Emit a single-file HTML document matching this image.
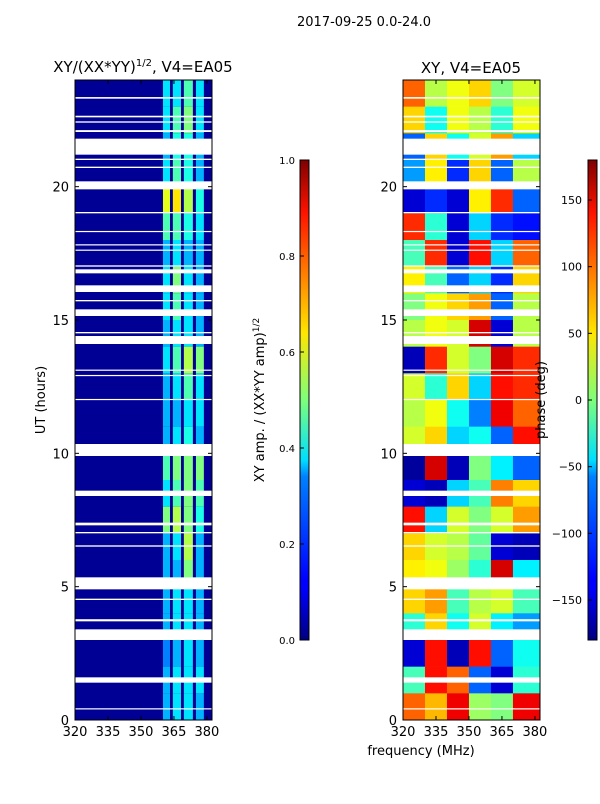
<!DOCTYPE html>
<html><head><meta charset="utf-8"><style>
body{margin:0;background:#fff;font-family:"DejaVu Sans","Liberation Sans",sans-serif}
svg text{font-family:"DejaVu Sans","Liberation Sans",sans-serif;fill:#000}
</style></head><body>
<svg id="fig" width="600" height="800" viewBox="0 0 600 800" xmlns="http://www.w3.org/2000/svg">
<defs>
<linearGradient id="jet" x1="0" y1="1" x2="0" y2="0">
<stop offset="0" stop-color="#00007f"/><stop offset="0.11" stop-color="#0000ff"/><stop offset="0.125" stop-color="#0000ff"/><stop offset="0.34" stop-color="#0080ff"/><stop offset="0.375" stop-color="#00dfff"/><stop offset="0.5" stop-color="#7dff7a"/><stop offset="0.64" stop-color="#ffe600"/><stop offset="0.89" stop-color="#ff1300"/><stop offset="1" stop-color="#7f0000"/>
</linearGradient>
</defs>
<text x="364" y="26" font-size="13" text-anchor="middle">2017-09-25 0.0-24.0</text>
<text x="143" y="72" font-size="15" text-anchor="middle">XY/(XX*YY)<tspan font-size="10" dy="-6">1/2</tspan><tspan dy="6">, V4=EA05</tspan></text>
<text x="471" y="73" font-size="15" text-anchor="middle">XY, V4=EA05</text>
<g id="left"></g>
<g id="right"></g>
<g id="axes"></g>
<text transform="translate(45,400) rotate(-90)" font-size="13" text-anchor="middle">UT (hours)</text>
<text x="421" y="755" font-size="13" text-anchor="middle">frequency (MHz)</text>
<rect x="300" y="160" width="9" height="480" fill="url(#jet)" stroke="#000" stroke-width="1"/>
<rect x="588" y="160" width="9" height="480" fill="url(#jet)" stroke="#000" stroke-width="1"/>
<text transform="translate(264,400) rotate(-90)" font-size="13" text-anchor="middle">XY amp. / (XX*YY amp)<tspan font-size="9" dy="-5">1/2</tspan></text>
<text transform="translate(545,400) rotate(-90)" font-size="13" text-anchor="middle">phase (deg)</text>
<g id="cb"></g>
</svg>
<script>
const hourRows=[23,22,21,20,19,18,17,16,15,14,13,12,11,10,9,8,7,6,5,4,3,2,1,0];
const stripeEdges=[[360,363.2],[364.5,368.2],[369.5,373.6],[375,378.6]];
const ampBackground=0.02;
const ampStripes=[
[.35,.35,.45,.35],[.35,.45,.5,.35],[.3,.4,.4,.3],[.35,.45,.4,.3],[.6,.65,.55,.4],[.45,.45,.4,.35],
[.3,.35,.3,.3],[.35,.5,.35,.3],[.35,.45,.35,.3],[.3,.35,.35,.3],[.35,.45,.55,.5],[.3,.35,.45,.35],
[.3,.3,.35,.35],[.3,.35,.4,.3],[.45,.5,.5,.5],[.35,.45,.5,.45],[.5,.55,.5,.4],[.3,.35,.55,.3],
[.3,.3,.5,.3],[.3,.35,.35,.3],[.3,.35,.35,.3],[.25,.3,.35,.3],[.3,.35,.35,.35],[.3,.35,.35,.3]];
const phaseEdges=[320,330,340,350,360,370,382.3];
const phaseRows=[
[100,20,40,60,0,30],[60,-40,40,20,-30,40],[-100,60,-40,30,80,-60],[-80,50,-120,60,-100,20],
[-150,-120,-150,50,120,-100],[120,-30,-150,-60,-120,-130],[-20,120,-150,130,-60,100],[50,-20,-100,-60,-120,60],
[0,40,60,80,-100,20],[20,40,30,150,-150,20],[-160,120,30,0,150,120],[30,-30,60,-60,130,120],
[20,40,-40,-90,140,100],[30,60,-60,-40,-100,130],[-170,150,-160,0,-50,-100],[-150,-160,-60,-20,90,60],
[130,-60,30,0,30,80],[60,30,20,-10,-150,-160],[50,40,10,-30,150,-50],[60,80,-20,20,30,-20],
[-30,60,-40,30,-50,-80],[-150,130,-160,130,-100,-40],[-20,130,100,-100,-150,-30],[100,70,140,10,0,140]];
const gaps=[[23.3,23.36],[22.6,22.66],[22.4,22.45],[22.05,22.12],[21.2,21.8],[21.0,21.05],[20.7,20.75],
[19.9,20.2],[19.0,19.05],[18.3,18.34],[17.8,17.84],[17.6,17.64],[17.0,17.05],[16.75,16.9],[16.05,16.3],
[15.7,15.75],[15.15,15.4],[14.5,14.55],[14.1,14.4],[13.1,13.14],[12.9,12.94],[12.0,12.04],[10.3,10.35],
[9.9,10.35],[8.4,8.6],[7.3,7.4],[7.0,7.05],[6.5,6.55],[4.9,5.35],[4.5,4.55],[3.7,3.78],[3.0,3.4],[1.4,1.6],[0.4,0.44]];
const xTicks=[320,335,350,365,380];
const yTicks=[0,5,10,15,20];
const ampTicks=[0,0.2,0.4,0.6,0.8,1.0];
const phaseTicks=[-150,-100,-50,0,50,100,150];

const NS='http://www.w3.org/2000/svg';
const fmin=320,fmax=382.3,tmax=24;
const panels=[{x0:75,x1:212},{x0:403,x1:540}];
const Y0=720,Y1=80;
function yS(h){return Y0-(h/tmax)*(Y0-Y1);}
function xS(p,f){return p.x0+(f-fmin)/(fmax-fmin)*(p.x1-p.x0);}
function cl(v){return Math.max(0,Math.min(1,v));}
function jet(t){const r=cl(1.5-Math.abs(4*t-3)),g=cl(1.5-Math.abs(4*t-2)),b=cl(1.5-Math.abs(4*t-1));
return 'rgb('+Math.round(r*255)+','+Math.round(g*255)+','+Math.round(b*255)+')';}
function mk(parent,tag,a){const e=document.createElementNS(NS,tag);for(const k in a)e.setAttribute(k,a[k]);parent.appendChild(e);return e;}
const L=document.getElementById('left'),R=document.getElementById('right'),A=document.getElementById('axes'),CB=document.getElementById('cb');
let bg=mk(L,'rect',{x:panels[0].x0,y:Y1,width:panels[0].x1-panels[0].x0,height:Y0-Y1,fill:jet(ampBackground)});


hourRows.forEach((h,i)=>{
  stripeEdges.forEach((s,j)=>{
    const x=xS(panels[0],s[0]),w=xS(panels[0],s[1])-x;
    const c=mk(L,'rect',{x:x,y:yS(h+1),width:w,height:yS(h)-yS(h+1),fill:jet(ampStripes[i][j])});
    
    
  });
  for(let j=0;j<phaseEdges.length-1;j++){
    const x=xS(panels[1],phaseEdges[j]),w=xS(panels[1],phaseEdges[j+1])-x;
    const c=mk(R,'rect',{x:x,y:yS(h+1),width:w+0.3,height:yS(h)-yS(h+1)+0.3,fill:jet((phaseRows[i][j]+180)/360)});
    
    
  }
});
panels.forEach(p=>{
  gaps.forEach(g=>{
    const r=mk(A,'rect',{x:p.x0,y:yS(g[1]),width:p.x1-p.x0,height:Math.max(1.2,yS(g[0])-yS(g[1])),fill:'#fff'});
    
    
  });
  const f=mk(A,'rect',{x:p.x0,y:Y1,width:p.x1-p.x0,height:Y0-Y1,fill:'none',stroke:'#000','stroke-width':1});
  
  
  xTicks.forEach(v=>{const x=xS(p,v);
    mk(A,'line',{x1:x,y1:Y0,x2:x,y2:Y0-4,stroke:'#000'});mk(A,'line',{x1:x,y1:Y1,x2:x,y2:Y1+4,stroke:'#000'});
    const t=mk(A,'text',{x:x,y:Y0+16,'font-size':13,'text-anchor':'middle'});t.textContent=v;
    
    });
  yTicks.forEach(v=>{const y=yS(v);
    mk(A,'line',{x1:p.x0,y1:y,x2:p.x0+4,y2:y,stroke:'#000'});mk(A,'line',{x1:p.x1,y1:y,x2:p.x1-4,y2:y,stroke:'#000'});
    const t=mk(A,'text',{x:p.x0-6,y:y+5,'font-size':13,'text-anchor':'end'});t.textContent=v;
    
    });
});
ampTicks.forEach(v=>{const y=640-v*480;
  mk(CB,'line',{x1:300,y1:y,x2:304,y2:y,stroke:'#000'});
  const t=mk(CB,'text',{x:295,y:y+4,'font-size':10,'text-anchor':'end'});t.textContent=v.toFixed(1);
  
  });
phaseTicks.forEach(v=>{const y=640-(v+180)/360*480;
  mk(CB,'line',{x1:588,y1:y,x2:592,y2:y,stroke:'#000'});
  const t=mk(CB,'text',{x:582,y:y+4,'font-size':11,'text-anchor':'end'});t.textContent=(v<0?'\u2212'+(-v):v);
  
  });
</script>
</body></html>
